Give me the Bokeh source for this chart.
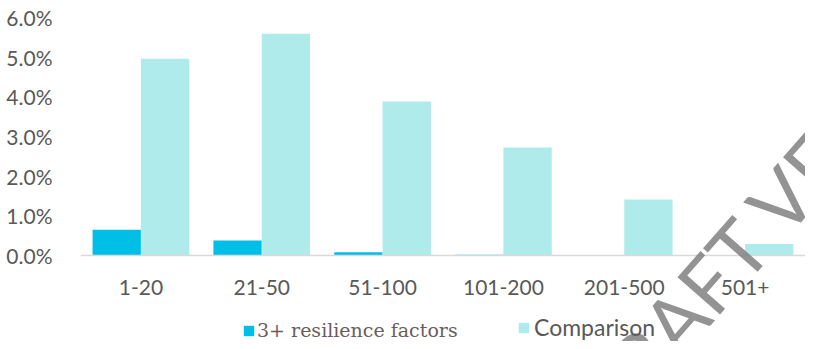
from bokeh.plotting import figure
from bokeh.models import (FactorRange, Range1d, NumeralTickFormatter, FixedTicker,
                          Legend, LegendItem, Label)
from bokeh.transform import dodge
from bokeh.embed import file_html
from bokeh.resources import INLINE

categories = ["1-20", "21-50", "51-100", "101-200", "201-500", "501+"]
resilience = [0.0065, 0.0038, 0.0008, 0.0002, 0.0, 0.0]
comparison = [0.0496, 0.0559, 0.0388, 0.0272, 0.0141, 0.0029]
y_ticks = [0.0, 0.01, 0.02, 0.03, 0.04, 0.05, 0.06]

BLUE = "#00BFE6"
LIGHT = "#AEEBEA"
TXT = "#595959"

# frame spans from top (6%) down to the canvas bottom, so legend and watermark are not clipped
p = figure(width=805, height=341, x_range=FactorRange(*categories, range_padding=0),
           y_range=Range1d(-0.02168, 0.06), output_backend="svg", toolbar_location=None,
           min_border_left=80, min_border_right=0, min_border_top=17, min_border_bottom=0)
p.outline_line_color = None
p.xgrid.grid_line_color = None
p.ygrid.grid_line_color = None

src = dict(cat=categories, res=resilience, comp=comparison)
r1 = p.vbar(x=dodge("cat", -0.2, range=p.x_range), top="res", width=0.4, source=src,
            fill_color=BLUE, line_color=None)
r2 = p.vbar(x=dodge("cat", 0.2, range=p.x_range), top="comp", width=0.4, source=src,
            fill_color=LIGHT, line_color=None)

p.yaxis.ticker = FixedTicker(ticks=y_ticks)
p.yaxis.formatter = NumeralTickFormatter(format="0.0%")
p.yaxis.axis_line_color = None
p.yaxis.major_tick_line_color = None
p.yaxis.minor_tick_line_color = None
p.yaxis.major_label_standoff = 22
p.yaxis.major_label_text_font = "Lato"
p.yaxis.major_label_text_font_size = "21px"
p.yaxis.major_label_text_color = TXT

p.xaxis.fixed_location = 0
p.xaxis.axis_line_color = "#d9d9d9"
p.xaxis.axis_line_width = 1.5
p.xaxis.major_tick_line_color = None
p.xaxis.minor_tick_line_color = None
p.xaxis.major_label_standoff = 18
p.xaxis.major_label_text_font = "Lato"
p.xaxis.major_label_text_font_size = "21px"
p.xaxis.major_label_text_color = TXT

def make_legend(item, loc, font, size, color, standoff):
    return Legend(items=[item], location=loc, orientation="horizontal",
                  border_line_color=None, background_fill_alpha=0,
                  padding=0, margin=0, spacing=0,
                  glyph_width=13, glyph_height=13, label_height=13,
                  label_standoff=standoff,
                  label_text_font=font, label_text_font_size=size,
                  label_text_color=color)

lg1 = make_legend(LegendItem(label="3+ resilience factors", renderers=[r1]),
                  (162, 0), "DejaVu Serif", "19px", "#6b5d5d", 2)
lg2 = make_legend(LegendItem(label="Comparison", renderers=[r2]),
                  (437, 0), "Lato", "23px", TXT, 4)
p.add_layout(lg1, "center")
p.add_layout(lg2, "center")

wm = Label(x=4.173, y=-0.04206, text="DRAFT VERSION",
           angle=0.85, text_font="Lato", text_font_size="79px",
           text_baseline="alphabetic", text_align="left",
           text_color="#808080", text_alpha=0.85)
p.add_layout(wm)

open("out.html", "w").write(file_html(p, INLINE))
